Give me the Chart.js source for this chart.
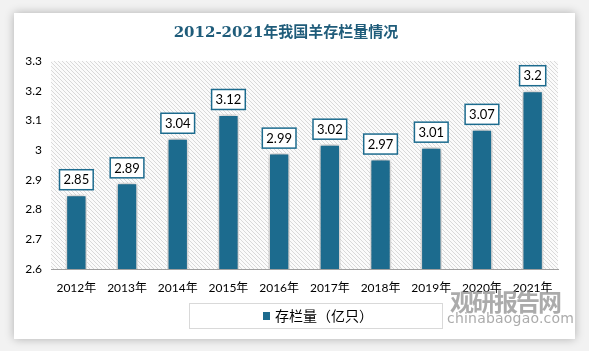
<!DOCTYPE html>
<html>
<head>
<meta charset="utf-8">
<script src="https://cdn.jsdelivr.net/npm/chart.js@4"></script>
<style>
  html, body { margin: 0; padding: 0; background: #f2f2f2; }
  body { width: 589px; height: 351px; position: relative; overflow: hidden; }
  #card {
    position: absolute; left: 14px; top: 13px; width: 561px; height: 326px;
    background: #fff; box-shadow: 0 0 9px rgba(0,0,0,0.28);
  }
  #wm1 {
    position: absolute; left: 450px; top: 283px; font: bold 24px "Noto Sans CJK SC";
    color: rgba(150,150,150,0.8); letter-spacing: -2px;
  }
  #wm2 {
    position: absolute; left: 447px; top: 310px; font: 14px "DejaVu Sans";
    color: rgba(150,150,150,0.8); letter-spacing: 0.2px;
  }
</style>
</head>
<body>
<div id="card"><canvas id="myChart" width="561" height="326"></canvas></div>
<div id="wm1">观研报告网</div>
<div id="wm2">chinabaogao.com</div>
<script>
const years = ['2012年', '2013年', '2014年', '2015年', '2016年', '2017年', '2018年', '2019年', '2020年', '2021年'];
const sheep = [2.85, 2.89, 3.04, 3.12, 2.99, 3.02, 2.97, 3.01, 3.07, 3.2];
const seriesName = '存栏量（亿只）';
const yMin = 2.6;
const yMax = 3.3;
const yStep = 0.1;

const barColor = '#1c6b8e';
const ctx = document.getElementById('myChart');

// hatched background of the plot area
function makeHatch() {
  const c = document.createElement('canvas');
  c.width = 4; c.height = 4;
  const g = c.getContext('2d');
  g.fillStyle = '#fbfbfb';
  g.fillRect(0, 0, 4, 4);
  g.strokeStyle = '#d9d9d9';
  g.lineWidth = 1;
  g.beginPath();
  g.moveTo(-1, -1); g.lineTo(5, 5);
  g.moveTo(-1, 3); g.lineTo(1, 5);
  g.moveTo(3, -1); g.lineTo(5, 1);
  g.stroke();
  return g.createPattern(c, 'repeat');
}

const hatchPlugin = {
  id: 'hatch',
  beforeDatasetsDraw(chart) {
    const a = chart.chartArea;
    const c = chart.ctx;
    c.save();
    c.fillStyle = makeHatch();
    c.fillRect(a.left, a.top, a.right - a.left, a.bottom - a.top);
    c.restore();
    // soft shadow under the bars
    c.save();
    c.shadowColor = 'rgba(0,0,0,0.4)';
    c.shadowBlur = 6;
  },
  afterDatasetsDraw(chart) {
    chart.ctx.restore();
  }
};

// boxed value labels above the bars
const boxLabels = {
  id: 'boxLabels',
  afterDatasetsDraw(chart) {
    const c = chart.ctx;
    const meta = chart.getDatasetMeta(0);
    c.save();
    c.font = '13px Lato, "Liberation Sans"';
    c.textAlign = 'center';
    c.textBaseline = 'middle';
    meta.data.forEach((bar, i) => {
      const txt = String(chart.data.datasets[0].data[i]);
      const w = c.measureText(txt).width + 8;
      const h = 20;
      const x = bar.x - w / 2;
      const y = bar.y - 5 - h;
      c.fillStyle = '#fff';
      c.fillRect(x, y, w, h);
      c.strokeStyle = barColor;
      c.lineWidth = 1.5;
      c.strokeRect(x, y, w, h);
      c.fillStyle = '#000';
      c.fillText(txt, bar.x, y + h / 2 + 0.5);
    });
    c.restore();
  }
};

// legend with a frame round it
const boxLegend = {
  id: 'boxLegend',
  afterDraw(chart) {
    const c = chart.ctx;
    c.save();
    c.strokeStyle = '#d9d9d9';
    c.lineWidth = 1;
    c.strokeRect(175.5, 290.5, 253, 25);
    c.fillStyle = barColor;
    c.fillRect(249, 299, 7, 8);
    c.fillStyle = '#000';
    c.font = '14px "Noto Sans CJK SC"';
    c.textBaseline = 'middle';
    c.fillText(chart.data.datasets[0].label, 261, 303);
    c.restore();
  }
};

new Chart(ctx, {
  type: 'bar',
  data: {
    labels: years,
    datasets: [{
      label: seriesName,
      data: sheep,
      backgroundColor: barColor,
      borderColor: '#ffffff',
      borderWidth: 1.5,
      borderSkipped: 'bottom',
      categoryPercentage: 1,
      barPercentage: 0.42
    }]
  },
  options: {
    responsive: false,
    animation: false,
    events: [],
    layout: { padding: { left: 0, right: 17, top: 0, bottom: 0 } },
    plugins: {
      legend: { display: false },
      tooltip: { enabled: false },
      title: {
        display: true,
        text: '2012-2021年我国羊存栏量情况',
        color: '#1f5c7a',
        font: { family: '"DejaVu Serif", "Noto Sans CJK SC"', size: 15, weight: 'bold' },
        padding: { top: 11, bottom: 19 }
      }
    },
    scales: {
      x: {
        grid: { display: false, drawTicks: false },
        border: { display: true, color: '#a0a0a0', width: 1 },
        ticks: { color: '#000', font: { family: 'Lato, "Noto Sans CJK SC"', size: 12 }, padding: 12, maxRotation: 0 },
        afterFit(s) { s.height = 70; }
      },
      y: {
        min: yMin,
        max: yMax,
        grid: { display: false, drawTicks: false },
        border: { display: false },
        ticks: {
          stepSize: yStep,
          color: '#000',
          padding: 9,
          font: { family: 'Lato, "Liberation Sans"', size: 12 },
          callback: v => Math.round(v * 10) / 10
        },
        afterFit(s) { s.width = 37; }
      }
    }
  },
  plugins: [hatchPlugin, boxLabels, boxLegend]
});
</script>
</body>
</html>
